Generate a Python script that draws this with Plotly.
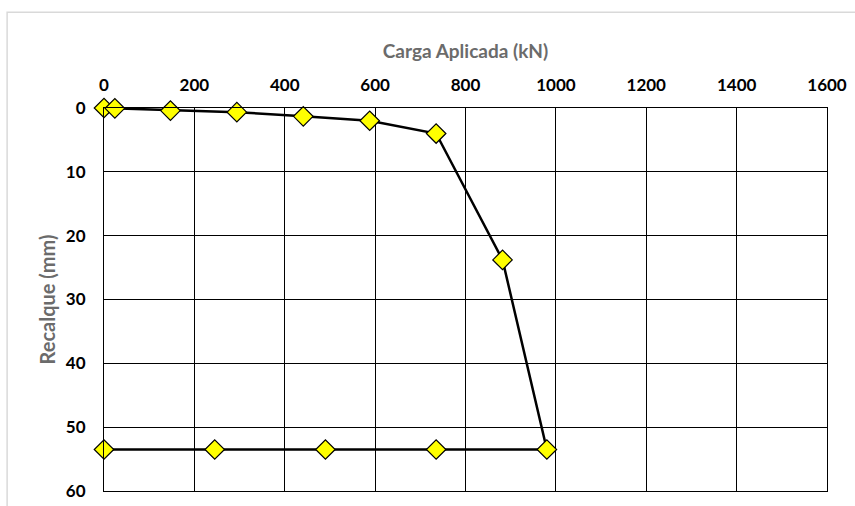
import plotly.graph_objects as go

# Load test: applied load (kN) vs settlement (mm), loading then unloading
carga_kn = [0, 24, 147, 294, 441, 588, 735, 882, 980, 735, 490, 245, 0]
recalque_mm = [0, 0.05, 0.4, 0.65, 1.3, 2.0, 4.0, 23.8, 53.5, 53.5, 53.5, 53.5, 53.5]

x_ticks = [0, 200, 400, 600, 800, 1000, 1200, 1400, 1600]
y_ticks = [0, 10, 20, 30, 40, 50, 60]

font_family = "Lato, 'Open Sans', sans-serif"

fig = go.Figure()
fig.add_trace(go.Scatter(
    x=carga_kn,
    y=recalque_mm,
    mode="lines+markers",
    line=dict(color="black", width=2.5),
    marker=dict(symbol="diamond", size=15, color="#FFFF00",
                line=dict(color="black", width=1.2)),
    showlegend=False,
    cliponaxis=False,
))

fig.update_layout(
    width=855,
    height=506,
    margin=dict(l=104, r=28, t=108, b=15),
    paper_bgcolor="white",
    plot_bgcolor="white",
    font=dict(family=font_family, color="black"),
    xaxis=dict(
        side="top",
        range=[0, 1600],
        automargin=False,
        tickvals=x_ticks,
        ticktext=[str(v) for v in x_ticks],
        tickfont=dict(size=17, color="black", family=font_family, weight="bold"),
        showgrid=True,
        gridcolor="black",
        gridwidth=1.2,
        zeroline=False,
        showline=True,
        linecolor="black",
        linewidth=1.2,
        mirror=True,
        ticks="",
        ticklabelstandoff=9,
        title=dict(text="Carga Aplicada (kN)", standoff=10,
                   font=dict(size=19, color="#6b6b6b", family=font_family, weight="bold")),
    ),
    yaxis=dict(
        range=[60, 0],
        automargin=False,
        tickvals=y_ticks,
        ticktext=[str(v) for v in y_ticks],
        tickfont=dict(size=17, color="black", family=font_family, weight="bold"),
        showgrid=True,
        gridcolor="black",
        gridwidth=1.2,
        zeroline=False,
        showline=True,
        linecolor="black",
        linewidth=1.2,
        mirror=True,
        ticks="",
        ticklabelstandoff=14,
        title=dict(text="Recalque (mm)", standoff=4,
                   font=dict(size=20, color="#6b6b6b", family=font_family, weight="bold")),
    ),
)

# Light frame around the chart area
fig.add_shape(type="rect", xref="paper", yref="paper",
              x0=-0.134, x1=1.2, y0=-0.2, y1=1.25,
              line=dict(color="#d9d9d9", width=1.5), layer="below")

fig.write_html("out.html")
